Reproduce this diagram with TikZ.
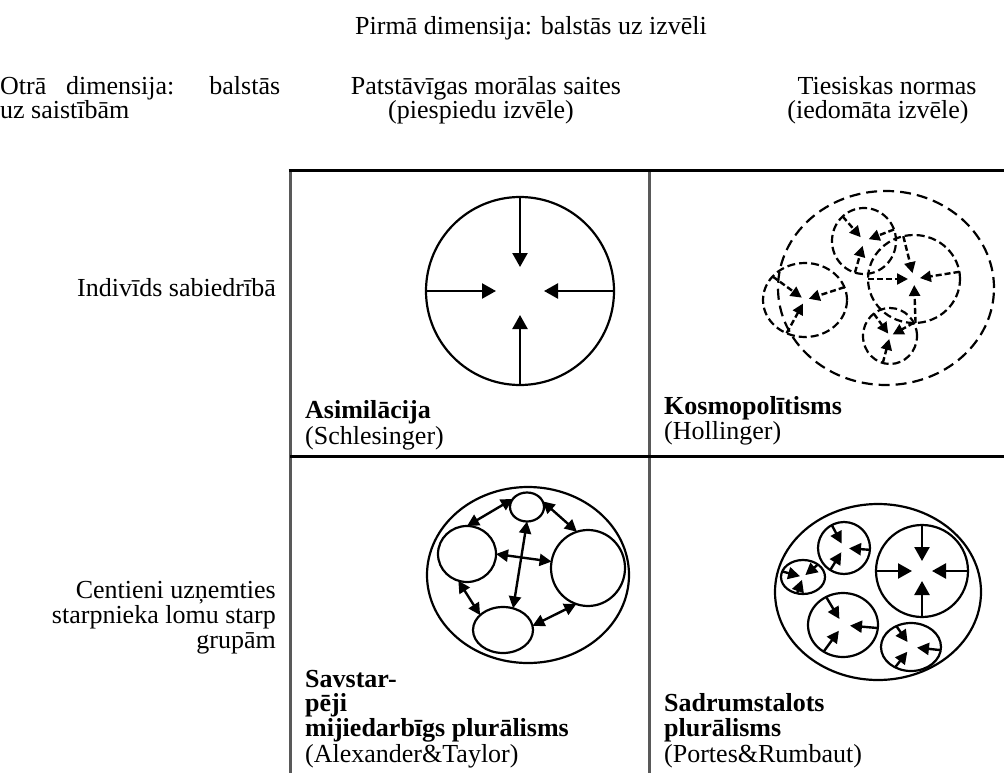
\documentclass[tikz,border=0pt]{standalone}
\usepackage{fontspec}
\setmainfont{Liberation Serif}
\usetikzlibrary{arrows.meta,shapes.geometric}

\tikzset{
  txt/.style={font=\fontsize{26}{25}\selectfont, inner sep=0pt},
  ring/.style={draw, line width=2.2pt, ellipse, inner sep=0pt, outer sep=0pt},
  dring/.style={ring, dash pattern=on 8pt off 4pt},
  arr/.style={line width=2.4pt, -{Triangle[length=14pt,width=15pt]}},
  sarr/.style={line width=2.4pt, -{Triangle[length=12pt,width=12pt]}},
  darr/.style={line width=2.4pt, dash pattern=on 6pt off 3pt, -{Triangle[length=11pt,width=11pt]}},
  dbl/.style={line width=2.4pt, {Triangle[length=12pt,width=12pt]}-{Triangle[length=12pt,width=12pt]}},
  cellline/.style={line width=3pt},
}

\begin{document}
\begin{tikzpicture}[x=1pt,y=-1pt]
\useasboundingbox (0,0) rectangle (1004,773);

% headings
\node[txt, anchor=base] (dimA) at (531,35) {Pirmā dimensija: balstās uz izvēli};
\node[txt, anchor=base west] (dimB1) at (0,95) {\makebox[280pt][s]{Otrā dimensija: balstās}};
\node[txt, anchor=base west] (dimB2) at (0,119) {uz saistībām};
\node[txt, anchor=base] (colA1) at (486,95) {Patstāvīgas morālas saites};
\node[txt, anchor=base] (colA2) at (481,119) {(piespiedu izvēle)};
\node[txt, anchor=base] (colB1) at (887,95) {Tiesiskas normas};
\node[txt, anchor=base] (colB2) at (878,119) {(iedomāta izvēle)};

% row labels
\node[txt, anchor=base east] (rowA) at (276,296) {Indivīds sabiedrībā};
\node[txt, anchor=base east] (rowB1) at (276,598) {Centieni uzņemties};
\node[txt, anchor=base east] (rowB2) at (276,623) {starpnieka lomu starp};
\node[txt, anchor=base east] (rowB3) at (276,648) {grupām};

% table lines
\draw[cellline, gray!70!black] (290,170) -- (290,773);
\draw[cellline, gray!70!black] (649,170) -- (649,773);
\draw[cellline] (288.5,170) -- (1004,170);
\draw[cellline] (290,456) -- (1004,456);

% assimilation
\node[ring, minimum width=188pt, minimum height=188pt] (asim) at (520,291) {};
\foreach \a in {north,west,east,south}
  \draw[arr, shorten >=24pt] (asim.\a) -- (asim.center);
\node[txt, anchor=base west] (asimT) at (305,418) {\textbf{Asimilācija}};
\node[txt, anchor=base west] (asimA) at (305,444) {(Schlesinger)};

% cosmopolitanism
\node[dring, dash pattern=on 11pt off 6pt, minimum width=216pt, minimum height=194pt] (kos) at (886,288) {};
\node[dring, minimum width=64pt, minimum height=66pt] (kosT) at (864,241) {};
\node[dring, minimum width=92pt, minimum height=88pt] (kosR) at (914,279) {};
\node[dring, minimum width=84pt, minimum height=74pt] (kosL) at (805,300) {};
\node[dring, minimum width=54pt, minimum height=56pt] (kosB) at (890,336) {};
\foreach \a in {131,21,-106}
  \draw[darr, shorten >=5pt] (kosT.\a) -- (kosT.center);
\foreach \a in {104,9,-88,180}
  \draw[darr, shorten >=6pt] (kosR.\a) -- (kosR.center);
\foreach \a in {144,18,-119}
  \draw[darr, shorten >=4pt] (kosL.\a) -- (kosL.center);
\foreach \a in {126,29,-105}
  \draw[darr, shorten >=3pt] (kosB.\a) -- (kosB.center);
\node[txt, anchor=base west] (kosN) at (664,414) {\textbf{Kosmopolītisms}};
\node[txt, anchor=base west] (kosA) at (664,439) {(Hollinger)};

% interactive pluralism
\node[ring, minimum width=202pt, minimum height=176pt] (plur) at (528,575) {};
\node[ring, minimum width=34pt, minimum height=29pt] (pT) at (527,507) {};
\node[ring, minimum width=58pt, minimum height=56pt] (pL) at (467,554) {};
\node[ring, minimum width=74pt, minimum height=76pt] (pR) at (588,568) {};
\node[ring, minimum width=60pt, minimum height=46pt] (pB) at (503,630) {};
\draw[dbl] (pT.150) -- (pL.north);
\draw[dbl] (pT.20) -- (pR.107);
\draw[dbl] (pL.252) -- (pB.147);
\draw[dbl] (pB.8) -- (pR.252);
\draw[dbl] (pL.east) -- (pR.170);
\draw[dbl] (pT.south) -- (pB.65);
\node[txt, anchor=base west] (plurN1) at (305,687) {\textbf{Savstar-}};
\node[txt, anchor=base west] (plurN2) at (305,711) {\textbf{pēji}};
\node[txt, anchor=base west] (plurN3) at (305,736) {\textbf{mijiedarbīgs plurālisms}};
\node[txt, anchor=base west] (plurA) at (305,762) {(Alexander\&Taylor)};

% fragmented pluralism
\node[ring, minimum width=206pt, minimum height=176pt] (frag) at (878,592) {};
\node[ring, minimum width=92pt, minimum height=92pt] (fG) at (922,571) {};
\node[ring, minimum width=52pt, minimum height=52pt] (fA) at (844,548) {};
\node[ring, minimum width=44pt, minimum height=34pt] (fS) at (803,577) {};
\node[ring, minimum width=70pt, minimum height=64pt] (fM) at (843,625) {};
\node[ring, minimum width=60pt, minimum height=48pt] (fB) at (911,647) {};
\foreach \a in {north,west,east,south}
  \draw[arr, shorten >=10pt] (fG.\a) -- (fG.center);
\foreach \a in {118,-4,-122}
  \draw[sarr, shorten >=5pt] (fA.\a) -- (fA.center);
\foreach \a in {165,40,-110}
  \draw[sarr, shorten >=3pt] (fS.\a) -- (fS.center);
\foreach \a in {121,-5,-126}
  \draw[sarr, shorten >=7pt] (fM.\a) -- (fM.center);
\foreach \a in {125,-6,-128}
  \draw[sarr, shorten >=6pt] (fB.\a) -- (fB.center);
\node[txt, anchor=base west] (fragN1) at (664,711) {\textbf{Sadrumstalots}};
\node[txt, anchor=base west] (fragN2) at (664,736) {\textbf{plurālisms}};
\node[txt, anchor=base west] (fragA) at (664,762) {(Portes\&Rumbaut)};
\end{tikzpicture}
\end{document}
